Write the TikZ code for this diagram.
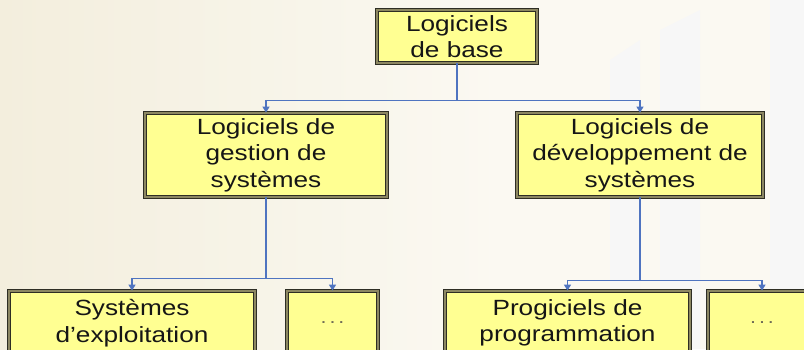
\documentclass[tikz,border=0pt]{standalone}
\usepackage{fontspec}
\setmainfont{Liberation Sans}[FakeStretch=1.19]
\usetikzlibrary{arrows.meta}
\definecolor{boxfill}{HTML}{FFFF92}
\definecolor{boxline}{HTML}{2E2E24}
\definecolor{boxinner}{HTML}{8C8762}
\definecolor{linkblue}{HTML}{4F74C0}
\definecolor{paper}{HTML}{F3EEDD}
\definecolor{paperlight}{HTML}{FBF9F2}
\definecolor{inktext}{HTML}{161616}
\definecolor{dotgray}{HTML}{6E6B55}
\tikzset{
  boxnode/.style={draw=boxline, fill=boxfill, line width=0.8pt,
    double=boxinner, double distance=1.6pt, align=center,
    text=inktext, inner sep=0pt,
    font=\fontsize{22}{26.5}\selectfont},
  dotsnode/.style={boxnode, text=dotgray, font=\fontsize{18}{18}\selectfont},
  link/.style={draw=linkblue, line width=1.3pt,
    -{Triangle[length=6pt,width=7pt]}},
}
\begin{document}
\begin{tikzpicture}[x=1pt,y=-1pt]
  % page and backdrop
  \useasboundingbox (0,0) rectangle (804,349);
  \clip (0,0) rectangle (804,349);
  \shade[left color=paper, right color=paperlight] (0,0) rectangle (500,349);
  \fill[paperlight] (500,0) rectangle (804,349);
  % faint vertical bands on the right
  \fill[black!3] (610,60) -- (640,40) -- (640,349) -- (610,349) -- cycle;
  \fill[black!3] (660,30) -- (700,10) -- (700,349) -- (660,349) -- cycle;
  \fill[black!3] (770,0) -- (804,0) -- (804,349) -- (770,349) -- cycle;

  % boxes
  \node[boxnode, minimum width=160, minimum height=53] (base) at (457,36.5)
    {Logiciels\\de base};
  \node[boxnode, minimum width=242, minimum height=84] (gest) at (266,155)
    {Logiciels de\\gestion de\\systèmes};
  \node[boxnode, minimum width=246, minimum height=84] (dev) at (640,155)
    {Logiciels de\\développement de\\systèmes};
  \node[boxnode, minimum width=246, minimum height=64] (os) at (132,323)
    {Systèmes\\d’exploitation};
  \node[dotsnode, minimum width=91, minimum height=64] (autre1) at (332.5,323)
    {.\,.\,.};
  \node[boxnode, minimum width=245, minimum height=64] (prog) at (567.5,323)
    {Progiciels de\\programmation};
  \node[dotsnode, minimum width=108, minimum height=64] (autre2) at (762,323)
    {.\,.\,.};

  % connectors
  \draw[link] (base.south) -- ++(0,37) -| (gest.north);
  \draw[link] (base.south) -- ++(0,37) -| (dev.north);
  \draw[link] (gest.south) -- ++(0,81) -| (os.north);
  \draw[link] (gest.south) -- ++(0,81) -| (autre1.north);
  \draw[link] (dev.south) -- ++(0,83) -| (prog.north);
  \draw[link] (dev.south) -- ++(0,83) -| (autre2.north);
\end{tikzpicture}
\end{document}
